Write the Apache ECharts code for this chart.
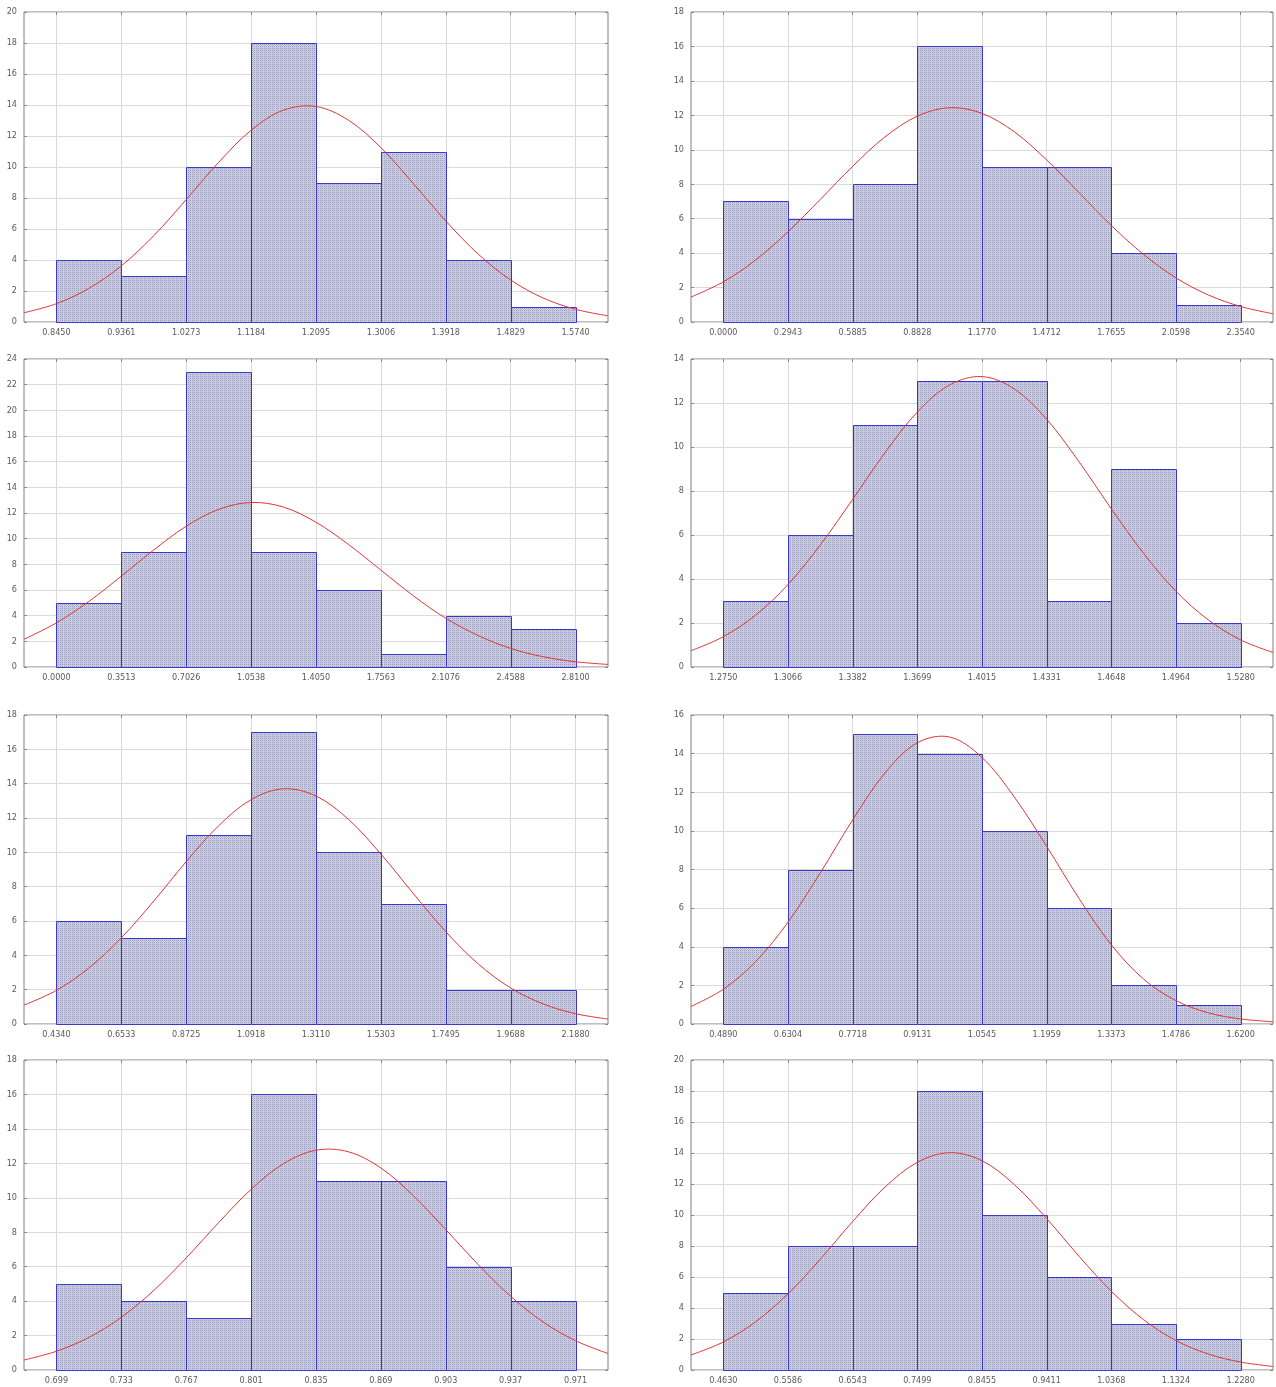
<!DOCTYPE html>
<html><head><meta charset="utf-8">
<script src="https://cdn.jsdelivr.net/npm/echarts@6/dist/echarts.min.js"></script>
<style>html,body{margin:0;padding:0;background:#fff}#c{width:1276px;height:1387px}</style>
</head><body><div id="c"></div>
<script>
// bin-edge index positions (0..8) and curve sampling positions (half-bin steps)
const edgeIndex = [0, 1, 2, 3, 4, 5, 6, 7, 8];
const curveX = [-0.5, 0, 0.5, 1, 1.5, 2, 2.5, 3, 3.5, 4, 4.5, 5, 5.5, 6, 6.5, 7, 7.5, 8, 8.5];

const ticks1 = ['0.8450','0.9361','1.0273','1.1184','1.2095','1.3006','1.3918','1.4829','1.5740'];
const counts1 = [4, 3, 10, 18, 9, 11, 4, 1];
const curve1 = [0.6,1.18,2.17,3.62,5.57,7.9,10.3,12.37,13.67,13.9,13.02,11.25,8.93,6.52,4.38,2.71,1.55,0.82,0.4];

const ticks2 = ['0.0000','0.2943','0.5885','0.8828','1.1770','1.4712','1.7655','2.0598','2.3540'];
const counts2 = [7, 6, 8, 16, 9, 9, 4, 1];
const curve2 = [1.45,2.33,3.6,5.24,7.12,9.04,10.75,11.95,12.44,12.11,11.04,9.41,7.51,5.6,3.92,2.56,1.57,0.9,0.48];

const ticks3 = ['0.0000','0.3513','0.7026','1.0538','1.4050','1.7563','2.1076','2.4588','2.8100'];
const counts3 = [5, 9, 23, 9, 6, 1, 4, 3];
const curve3 = [2.16,3.44,5.11,7.08,9.12,10.97,12.28,12.82,12.46,11.28,9.55,7.55,5.55,3.8,2.45,1.45,0.8,0.41,0.2];

const ticks4 = ['1.2750','1.3066','1.3382','1.3699','1.4015','1.4331','1.4648','1.4964','1.5280'];
const counts4 = [3, 6, 11, 13, 13, 3, 9, 2];
const curve4 = [0.74,1.38,2.36,3.75,5.55,7.62,9.74,11.59,12.82,13.2,12.64,11.26,9.33,7.19,5.16,3.44,2.14,1.23,0.66];

const ticks5 = ['0.4340','0.6533','0.8725','1.0918','1.3110','1.5303','1.7495','1.9688','2.1880'];
const counts5 = [6, 5, 11, 17, 10, 7, 2, 2];
const curve5 = [1.1,1.96,3.26,5.02,7.16,9.46,11.55,13.07,13.7,13.28,11.92,9.9,7.6,5.38,3.5,2.1,1.17,0.6,0.29];

const ticks6 = ['0.4890','0.6304','0.7718','0.9131','1.0545','1.1959','1.3373','1.4786','1.6200'];
const counts6 = [4, 8, 15, 14, 10, 6, 2, 1];
const curve6 = [0.91,1.8,3.23,5.27,7.83,10.57,13.0,14.56,14.86,13.8,11.75,9.2,6.5,4.1,2.32,1.21,0.58,0.26,0.12];

const ticks7 = ['0.699','0.733','0.767','0.801','0.835','0.869','0.903','0.937','0.971'];
const counts7 = [5, 4, 3, 16, 11, 11, 6, 4];
const curve7 = [0.58,1.09,1.89,3.06,4.62,6.51,8.56,10.49,11.98,12.76,12.67,11.73,10.12,8.15,6.12,4.28,2.79,1.7,0.96];

const ticks8 = ['0.4630','0.5586','0.6543','0.7499','0.8455','0.9411','1.0368','1.1324','1.2280'];
const counts8 = [5, 8, 8, 18, 10, 6, 3, 2];
const curve8 = [0.97,1.81,3.11,4.92,7.15,9.58,11.8,13.4,14.02,13.5,11.96,9.77,7.34,5.08,3.24,1.9,1.03,0.51,0.23];

const yMaxes = [20, 18, 24, 14, 18, 16, 18, 20];

const panels = [
  {ticks: ticks1, counts: counts1, curve: curve1},
  {ticks: ticks2, counts: counts2, curve: curve2},
  {ticks: ticks3, counts: counts3, curve: curve3},
  {ticks: ticks4, counts: counts4, curve: curve4},
  {ticks: ticks5, counts: counts5, curve: curve5},
  {ticks: ticks6, counts: counts6, curve: curve6},
  {ticks: ticks7, counts: counts7, curve: curve7},
  {ticks: ticks8, counts: counts8, curve: curve8}
];

// layout (pixels)
const colLeft = [24, 691];
const colWidth = [584, 582];
const rowTop = [12, 359, 715, 1060];
const rowHeight = [310, 308, 309, 310];

const FONT = "'DejaVu Sans Condensed', 'Liberation Sans Narrow', 'Liberation Sans', sans-serif";

// dotted fill texture for the bars (rows of dots)
const pat = document.createElement('canvas');
pat.width = 4; pat.height = 2;
(function () {
  const g = pat.getContext('2d');
  g.fillStyle = '#cdcfe0'; g.fillRect(0, 0, 4, 2);
  g.fillStyle = '#9a9dbf'; g.fillRect(0, 0, 1, 1); g.fillRect(2, 0, 1, 1);
  g.fillStyle = '#babdd4'; g.fillRect(1, 1, 1, 1);
})();
const barFill = {image: pat, repeat: 'repeat'};

const grids = [], xAxes = [], yAxes = [], series = [];

panels.forEach(function (p, k) {
  const r = Math.floor(k / 2), c = k % 2;
  grids.push({
    left: colLeft[c], top: rowTop[r], width: colWidth[c], height: rowHeight[r],
    show: true, borderColor: '#808080', borderWidth: 1, backgroundColor: '#fff'
  });
  const ticks = p.ticks;
  xAxes.push({
    gridIndex: k, type: 'value', position: 'bottom', min: -0.5, max: 8.5,
    axisLine: {show: false, onZero: false},
    axisTick: {show: true, inside: true, length: 3, lineStyle: {color: '#888'}, customValues: edgeIndex},
    axisLabel: {show: true, customValues: edgeIndex, margin: 6, color: '#5a5a5a', fontSize: 9, fontFamily: FONT,
      formatter: function (v) { return ticks[Math.round(v)]; }},
    splitLine: {show: true, lineStyle: {color: '#dadada', width: 1}}
  });
  xAxes.push({
    gridIndex: k, type: 'value', position: 'top', min: -0.5, max: 8.5,
    axisLine: {show: false, onZero: false},
    axisTick: {show: true, inside: true, length: 3, lineStyle: {color: '#888'}, customValues: edgeIndex},
    axisLabel: {show: false, customValues: edgeIndex},
    splitLine: {show: false}
  });
  yAxes.push({
    gridIndex: k, type: 'value', position: 'left', min: 0, max: yMaxes[k], interval: 2,
    axisLine: {show: false, onZero: false},
    axisTick: {show: true, inside: true, length: 3, lineStyle: {color: '#888'}},
    axisLabel: {show: true, margin: 7, color: '#5a5a5a', fontSize: 9, fontFamily: FONT},
    splitLine: {show: true, lineStyle: {color: '#dadada', width: 1}}
  });
  yAxes.push({
    gridIndex: k, type: 'value', position: 'right', min: 0, max: yMaxes[k], interval: 2,
    axisLine: {show: false, onZero: false},
    axisTick: {show: true, inside: true, length: 3, lineStyle: {color: '#888'}},
    axisLabel: {show: false},
    splitLine: {show: false}
  });
  // histogram bars
  series.push({
    type: 'custom', xAxisIndex: 2 * k, yAxisIndex: 2 * k, z: 3,
    encode: {x: 0, y: 1},
    data: p.counts.map(function (v, i) { return [edgeIndex[i], v]; }),
    renderItem: function (params, api) {
      const i = api.value(0), v = api.value(1);
      const a = api.coord([i, v]);
      const b = api.coord([i + 1, 0]);
      return {
        type: 'rect',
        shape: {x: Math.round(a[0]) + 0.5, y: Math.round(a[1]) + 0.5,
                width: Math.round(b[0]) - Math.round(a[0]), height: Math.round(b[1]) - Math.round(a[1])},
        style: {fill: barFill, stroke: '#3838cc', lineWidth: 1}
      };
    }
  });
  // fitted curve: one smooth polyline through all read points
  const curvePts = p.curve.map(function (v, i) { return [curveX[i], v]; });
  series.push({
    type: 'custom', xAxisIndex: 2 * k, yAxisIndex: 2 * k, z: 5,
    encode: {x: 0, y: 1},
    data: curvePts,
    renderItem: function (params, api) {
      if (params.dataIndex !== 0) return null;
      const pts = curvePts.map(function (d) { return api.coord(d); });
      return {
        type: 'polyline',
        shape: {points: pts, smooth: 0.35},
        style: {fill: null, stroke: '#e03535', lineWidth: 1}
      };
    }
  });
});

const chart = echarts.init(document.getElementById('c'), null, {renderer: 'canvas'});
chart.setOption({
  animation: false,
  backgroundColor: '#fff',
  grid: grids, xAxis: xAxes, yAxis: yAxes, series: series
});
</script></body></html>
